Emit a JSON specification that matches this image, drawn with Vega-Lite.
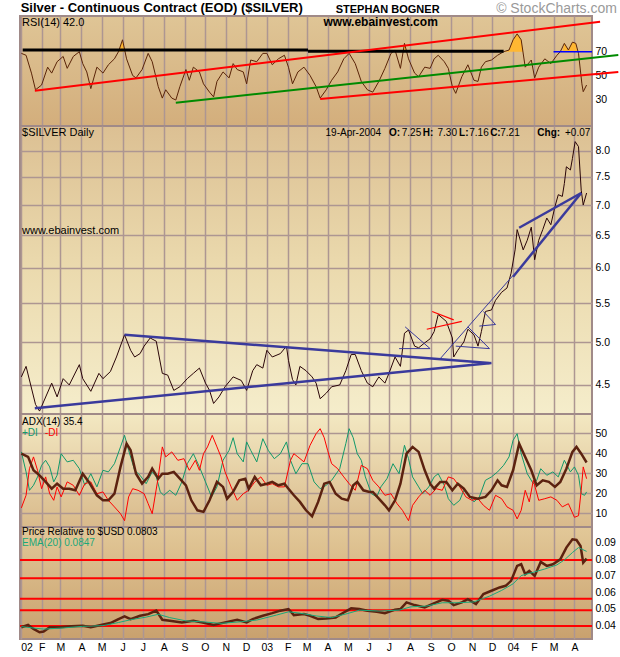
{
"$schema": "https://vega.github.io/schema/vega-lite/v6.json",
"background": "#ffffff",
"padding": {"left": 15, "top": 1, "right": 0, "bottom": 0},
"spacing": 0,
"bounds": "flush",
"config": {
  "font": "Liberation Sans",
  "view": {"stroke": "#a08a88", "strokeWidth": 2},
  "axis": {"domain": false, "ticks": false, "tickSize": 0, "labelFont": "Liberation Sans", "labelFontSize": 10.5, "labelColor": "#000000", "labelPadding": 3, "labelOverlap": false, "gridColor": "#ad9692", "gridWidth": 1.5, "gridOpacity": 1},
  "text": {"font": "Liberation Sans", "fontSize": 11, "baseline": "middle", "align": "left", "color": "#000000"}
},
"datasets": {
  "one": [{"k": 1}],
  "price": [{"d":"2002-01-02","v":4.59},{"d":"2002-01-09","v":4.71},{"d":"2002-01-23","v":4.29},{"d":"2002-01-29","v":4.22},{"d":"2002-02-16","v":4.52},{"d":"2002-02-24","v":4.37},{"d":"2002-03-05","v":4.57},{"d":"2002-03-14","v":4.50},{"d":"2002-03-29","v":4.73},{"d":"2002-04-03","v":4.57},{"d":"2002-04-15","v":4.43},{"d":"2002-04-27","v":4.63},{"d":"2002-05-03","v":4.57},{"d":"2002-05-14","v":4.65},{"d":"2002-05-23","v":4.82},{"d":"2002-06-04","v":5.09},{"d":"2002-06-13","v":4.90},{"d":"2002-06-19","v":4.82},{"d":"2002-06-27","v":4.86},{"d":"2002-07-03","v":4.95},{"d":"2002-07-12","v":5.05},{"d":"2002-07-21","v":5.01},{"d":"2002-07-30","v":4.63},{"d":"2002-08-07","v":4.61},{"d":"2002-08-16","v":4.44},{"d":"2002-08-25","v":4.48},{"d":"2002-09-05","v":4.57},{"d":"2002-09-14","v":4.63},{"d":"2002-09-23","v":4.69},{"d":"2002-10-02","v":4.52},{"d":"2002-10-08","v":4.44},{"d":"2002-10-14","v":4.30},{"d":"2002-10-22","v":4.37},{"d":"2002-10-31","v":4.48},{"d":"2002-11-12","v":4.59},{"d":"2002-11-24","v":4.55},{"d":"2002-12-02","v":4.44},{"d":"2002-12-11","v":4.66},{"d":"2002-12-17","v":4.73},{"d":"2002-12-26","v":4.69},{"d":"2003-01-01","v":4.90},{"d":"2003-01-09","v":4.82},{"d":"2003-01-21","v":4.86},{"d":"2003-01-30","v":4.95},{"d":"2003-02-02","v":4.78},{"d":"2003-02-08","v":4.56},{"d":"2003-02-13","v":4.50},{"d":"2003-02-19","v":4.71},{"d":"2003-02-28","v":4.66},{"d":"2003-03-09","v":4.59},{"d":"2003-03-15","v":4.52},{"d":"2003-03-21","v":4.35},{"d":"2003-03-30","v":4.41},{"d":"2003-04-07","v":4.48},{"d":"2003-04-19","v":4.50},{"d":"2003-04-28","v":4.66},{"d":"2003-05-06","v":4.85},{"d":"2003-05-12","v":4.85},{"d":"2003-05-21","v":4.66},{"d":"2003-05-30","v":4.52},{"d":"2003-06-07","v":4.48},{"d":"2003-06-16","v":4.59},{"d":"2003-06-25","v":4.52},{"d":"2003-07-01","v":4.63},{"d":"2003-07-10","v":4.82},{"d":"2003-07-18","v":4.71},{"d":"2003-07-24","v":5.11},{"d":"2003-07-30","v":5.15},{"d":"2003-08-08","v":4.95},{"d":"2003-08-14","v":4.93},{"d":"2003-08-23","v":4.99},{"d":"2003-08-31","v":5.04},{"d":"2003-09-06","v":5.13},{"d":"2003-09-12","v":5.35},{"d":"2003-09-24","v":5.26},{"d":"2003-10-03","v":5.05},{"d":"2003-10-05","v":4.82},{"d":"2003-10-11","v":4.90},{"d":"2003-10-20","v":5.00},{"d":"2003-10-26","v":5.16},{"d":"2003-11-04","v":5.09},{"d":"2003-11-10","v":4.95},{"d":"2003-11-15","v":5.13},{"d":"2003-11-21","v":5.39},{"d":"2003-11-30","v":5.41},{"d":"2003-12-06","v":5.54},{"d":"2003-12-15","v":5.65},{"d":"2003-12-23","v":5.71},{"d":"2003-12-29","v":5.92},{"d":"2004-01-04","v":6.27},{"d":"2004-01-07","v":6.59},{"d":"2004-01-16","v":6.27},{"d":"2004-01-22","v":6.42},{"d":"2004-01-28","v":6.63},{"d":"2004-02-02","v":6.12},{"d":"2004-02-08","v":6.42},{"d":"2004-02-14","v":6.59},{"d":"2004-02-20","v":6.78},{"d":"2004-02-26","v":6.67},{"d":"2004-03-03","v":6.97},{"d":"2004-03-08","v":7.18},{"d":"2004-03-14","v":7.15},{"d":"2004-03-17","v":7.38},{"d":"2004-03-20","v":7.69},{"d":"2004-03-26","v":7.63},{"d":"2004-03-29","v":7.85},{"d":"2004-04-02","v":8.18},{"d":"2004-04-07","v":8.08},{"d":"2004-04-11","v":7.26},{"d":"2004-04-14","v":7.00},{"d":"2004-04-19","v":7.21}],
  "rsi": [{"d":"2002-01-02","v":68.6},{"d":"2002-01-09","v":67},{"d":"2002-01-17","v":52},{"d":"2002-01-23","v":38},{"d":"2002-02-01","v":42},{"d":"2002-02-10","v":57},{"d":"2002-02-16","v":52},{"d":"2002-02-24","v":61.6},{"d":"2002-03-05","v":66},{"d":"2002-03-11","v":56},{"d":"2002-03-20","v":66},{"d":"2002-03-29","v":70},{"d":"2002-04-03","v":60},{"d":"2002-04-09","v":53},{"d":"2002-04-15","v":39},{"d":"2002-04-24","v":57},{"d":"2002-05-03","v":52},{"d":"2002-05-11","v":59},{"d":"2002-05-20","v":64},{"d":"2002-05-26","v":70},{"d":"2002-06-01","v":80},{"d":"2002-06-07","v":64},{"d":"2002-06-16","v":50},{"d":"2002-06-21","v":48},{"d":"2002-06-30","v":55},{"d":"2002-07-09","v":68.6},{"d":"2002-07-15","v":61.6},{"d":"2002-07-24","v":40.6},{"d":"2002-07-30","v":31},{"d":"2002-08-04","v":38},{"d":"2002-08-13","v":31},{"d":"2002-08-19","v":29.4},{"d":"2002-08-25","v":40.6},{"d":"2002-09-03","v":55},{"d":"2002-09-08","v":46},{"d":"2002-09-14","v":57},{"d":"2002-09-23","v":53},{"d":"2002-09-29","v":43},{"d":"2002-10-08","v":36},{"d":"2002-10-14","v":32},{"d":"2002-10-19","v":45},{"d":"2002-10-28","v":53},{"d":"2002-11-06","v":48},{"d":"2002-11-12","v":60},{"d":"2002-11-18","v":55},{"d":"2002-11-27","v":53},{"d":"2002-12-02","v":43},{"d":"2002-12-08","v":63},{"d":"2002-12-17","v":61.6},{"d":"2002-12-26","v":68.6},{"d":"2003-01-01","v":68.6},{"d":"2003-01-09","v":59},{"d":"2003-01-18","v":64},{"d":"2003-01-27","v":67},{"d":"2003-02-02","v":57},{"d":"2003-02-08","v":43},{"d":"2003-02-16","v":53},{"d":"2003-02-25","v":57},{"d":"2003-03-06","v":50},{"d":"2003-03-15","v":40.6},{"d":"2003-03-21","v":31},{"d":"2003-03-30","v":38},{"d":"2003-04-07","v":46},{"d":"2003-04-16","v":53},{"d":"2003-04-25","v":64},{"d":"2003-05-03","v":68.6},{"d":"2003-05-12","v":60},{"d":"2003-05-21","v":45},{"d":"2003-05-30","v":38},{"d":"2003-06-07","v":36},{"d":"2003-06-16","v":45},{"d":"2003-06-25","v":56},{"d":"2003-07-04","v":68.6},{"d":"2003-07-10","v":71.4},{"d":"2003-07-18","v":56},{"d":"2003-07-24","v":77},{"d":"2003-07-30","v":64},{"d":"2003-08-08","v":52},{"d":"2003-08-14","v":49},{"d":"2003-08-23","v":57},{"d":"2003-08-31","v":56},{"d":"2003-09-06","v":64},{"d":"2003-09-12","v":67},{"d":"2003-09-21","v":61.6},{"d":"2003-09-27","v":56},{"d":"2003-10-03","v":40.6},{"d":"2003-10-08","v":35},{"d":"2003-10-17","v":49},{"d":"2003-10-26","v":59},{"d":"2003-11-04","v":46},{"d":"2003-11-10","v":45},{"d":"2003-11-15","v":57},{"d":"2003-11-21","v":61.6},{"d":"2003-11-30","v":63},{"d":"2003-12-09","v":67},{"d":"2003-12-18","v":70},{"d":"2003-12-26","v":71.4},{"d":"2004-01-01","v":80},{"d":"2004-01-07","v":85},{"d":"2004-01-13","v":80},{"d":"2004-01-19","v":57},{"d":"2004-01-28","v":63},{"d":"2004-02-02","v":48},{"d":"2004-02-08","v":57},{"d":"2004-02-17","v":64},{"d":"2004-02-26","v":60},{"d":"2004-03-06","v":67},{"d":"2004-03-11","v":70},{"d":"2004-03-17","v":77},{"d":"2004-03-23","v":71.4},{"d":"2004-03-29","v":78},{"d":"2004-04-03","v":77},{"d":"2004-04-07","v":68.6},{"d":"2004-04-12","v":43},{"d":"2004-04-14","v":36.4},{"d":"2004-04-19","v":42}],
  "ob": [{"d":"2002-05-26","v":70,"s":1},{"d":"2002-06-01","v":80,"s":1},{"d":"2002-06-04","v":70,"s":1},{"d":"2003-07-22","v":70,"s":2},{"d":"2003-07-24","v":77,"s":2},{"d":"2003-07-27","v":70,"s":2},{"d":"2003-12-18","v":70,"s":3},{"d":"2003-12-26","v":71.4,"s":3},{"d":"2004-01-01","v":80,"s":3},{"d":"2004-01-07","v":85,"s":3},{"d":"2004-01-13","v":80,"s":3},{"d":"2004-01-16","v":70,"s":3},{"d":"2004-03-14","v":70,"s":4},{"d":"2004-03-17","v":77,"s":4},{"d":"2004-03-23","v":71.4,"s":4},{"d":"2004-03-29","v":78,"s":4},{"d":"2004-04-03","v":77,"s":4},{"d":"2004-04-05","v":70,"s":4}],
  "adx": [{"d":"2002-01-02","v":39.8},{"d":"2002-01-12","v":38.2},{"d":"2002-01-20","v":31.5},{"d":"2002-01-29","v":29},{"d":"2002-02-07","v":25.7},{"d":"2002-02-16","v":22.3},{"d":"2002-02-24","v":24.8},{"d":"2002-03-05","v":22.3},{"d":"2002-03-14","v":22.3},{"d":"2002-03-23","v":21.5},{"d":"2002-04-03","v":29.8},{"d":"2002-04-12","v":25.7},{"d":"2002-04-24","v":19},{"d":"2002-05-03","v":16.5},{"d":"2002-05-11","v":16.5},{"d":"2002-05-20","v":19.8},{"d":"2002-05-29","v":33.2},{"d":"2002-06-07","v":44.8},{"d":"2002-06-13","v":41.5},{"d":"2002-06-21","v":29.8},{"d":"2002-06-30","v":24.8},{"d":"2002-07-09","v":28.2},{"d":"2002-07-15","v":32.3},{"d":"2002-07-24","v":27.3},{"d":"2002-07-30","v":29.8},{"d":"2002-08-07","v":29.8},{"d":"2002-08-16","v":30.7},{"d":"2002-08-25","v":27.3},{"d":"2002-09-03","v":24},{"d":"2002-09-11","v":16.5},{"d":"2002-09-20","v":11.5},{"d":"2002-09-29","v":10.7},{"d":"2002-10-08","v":16.5},{"d":"2002-10-19","v":25.7},{"d":"2002-10-28","v":23.2},{"d":"2002-11-03","v":17.3},{"d":"2002-11-12","v":20.7},{"d":"2002-11-21","v":26.5},{"d":"2002-11-30","v":27.3},{"d":"2002-12-05","v":22.3},{"d":"2002-12-14","v":28.2},{"d":"2002-12-23","v":24},{"d":"2003-01-01","v":24.8},{"d":"2003-01-09","v":25.7},{"d":"2003-01-18","v":24},{"d":"2003-01-27","v":24.8},{"d":"2003-02-02","v":22.3},{"d":"2003-02-10","v":19},{"d":"2003-02-19","v":15.7},{"d":"2003-02-28","v":11.5},{"d":"2003-03-09","v":8.5},{"d":"2003-03-18","v":15.7},{"d":"2003-03-27","v":24.8},{"d":"2003-04-04","v":25.7},{"d":"2003-04-13","v":19.8},{"d":"2003-04-22","v":17.3},{"d":"2003-05-01","v":16.5},{"d":"2003-05-09","v":24},{"d":"2003-05-15","v":25.7},{"d":"2003-05-24","v":21.5},{"d":"2003-06-02","v":20.7},{"d":"2003-06-07","v":20.7},{"d":"2003-06-16","v":17.3},{"d":"2003-06-25","v":14},{"d":"2003-07-01","v":11.5},{"d":"2003-07-10","v":16.5},{"d":"2003-07-18","v":24.8},{"d":"2003-07-27","v":39.8},{"d":"2003-08-05","v":43.2},{"d":"2003-08-14","v":40.7},{"d":"2003-08-23","v":31.5},{"d":"2003-08-31","v":24.8},{"d":"2003-09-06","v":22.3},{"d":"2003-09-15","v":25.7},{"d":"2003-09-24","v":25.7},{"d":"2003-10-03","v":21.5},{"d":"2003-10-11","v":24.8},{"d":"2003-10-20","v":22.3},{"d":"2003-10-29","v":18.2},{"d":"2003-11-10","v":17.3},{"d":"2003-11-21","v":18.2},{"d":"2003-11-30","v":21.5},{"d":"2003-12-09","v":26.5},{"d":"2003-12-15","v":24},{"d":"2003-12-23","v":23.2},{"d":"2004-01-01","v":31.5},{"d":"2004-01-10","v":44.8},{"d":"2004-01-19","v":38.2},{"d":"2004-01-28","v":31.5},{"d":"2004-02-05","v":24},{"d":"2004-02-14","v":26.5},{"d":"2004-02-23","v":25.7},{"d":"2004-03-03","v":23.2},{"d":"2004-03-11","v":25.7},{"d":"2004-03-20","v":32.3},{"d":"2004-03-29","v":40.7},{"d":"2004-04-04","v":43.2},{"d":"2004-04-11","v":39.8},{"d":"2004-04-19","v":35.4}],
  "pdi": [{"d":"2002-01-02","v":40.7},{"d":"2002-01-09","v":30.7},{"d":"2002-01-14","v":21.5},{"d":"2002-01-20","v":24},{"d":"2002-01-26","v":28.2},{"d":"2002-02-01","v":34},{"d":"2002-02-07","v":36.5},{"d":"2002-02-13","v":33.2},{"d":"2002-02-19","v":25.7},{"d":"2002-02-24","v":29},{"d":"2002-03-02","v":39.8},{"d":"2002-03-11","v":35.7},{"d":"2002-03-20","v":36.5},{"d":"2002-03-29","v":32.3},{"d":"2002-04-06","v":24},{"d":"2002-04-15","v":29.8},{"d":"2002-04-24","v":23.2},{"d":"2002-05-03","v":31.5},{"d":"2002-05-11","v":30.7},{"d":"2002-05-20","v":34.8},{"d":"2002-05-29","v":43.2},{"d":"2002-06-04","v":49},{"d":"2002-06-10","v":41.5},{"d":"2002-06-19","v":31.5},{"d":"2002-06-27","v":29},{"d":"2002-07-06","v":24.8},{"d":"2002-07-15","v":30.7},{"d":"2002-07-21","v":28.2},{"d":"2002-07-27","v":20.7},{"d":"2002-08-01","v":19},{"d":"2002-08-10","v":21.5},{"d":"2002-08-19","v":19},{"d":"2002-08-28","v":25.7},{"d":"2002-09-05","v":34.8},{"d":"2002-09-14","v":39.8},{"d":"2002-09-23","v":33.2},{"d":"2002-10-02","v":25.7},{"d":"2002-10-11","v":18.2},{"d":"2002-10-19","v":23.2},{"d":"2002-10-28","v":36.5},{"d":"2002-11-06","v":41.5},{"d":"2002-11-12","v":47.8},{"d":"2002-11-18","v":39.8},{"d":"2002-11-27","v":35.7},{"d":"2002-12-02","v":45.7},{"d":"2002-12-08","v":41.5},{"d":"2002-12-17","v":35.7},{"d":"2002-12-26","v":47.3},{"d":"2003-01-03","v":41.5},{"d":"2003-01-12","v":37.3},{"d":"2003-01-21","v":39.8},{"d":"2003-01-30","v":45.7},{"d":"2003-02-05","v":36.5},{"d":"2003-02-13","v":29.8},{"d":"2003-02-22","v":34.8},{"d":"2003-03-03","v":34.8},{"d":"2003-03-12","v":25.7},{"d":"2003-03-21","v":22.3},{"d":"2003-03-30","v":24},{"d":"2003-04-07","v":26.5},{"d":"2003-04-19","v":32.3},{"d":"2003-04-28","v":44.8},{"d":"2003-05-03","v":52.3},{"d":"2003-05-09","v":47.8},{"d":"2003-05-15","v":39.8},{"d":"2003-05-21","v":36.5},{"d":"2003-05-27","v":28.2},{"d":"2003-06-05","v":19.8},{"d":"2003-06-13","v":18.2},{"d":"2003-06-19","v":23.2},{"d":"2003-06-28","v":27.3},{"d":"2003-07-07","v":34.8},{"d":"2003-07-16","v":29.8},{"d":"2003-07-24","v":44},{"d":"2003-07-30","v":37.3},{"d":"2003-08-05","v":28.2},{"d":"2003-08-14","v":23.2},{"d":"2003-08-20","v":19.8},{"d":"2003-08-29","v":23.2},{"d":"2003-09-06","v":28.2},{"d":"2003-09-12","v":29.8},{"d":"2003-09-21","v":24},{"d":"2003-09-27","v":17.3},{"d":"2003-10-05","v":14},{"d":"2003-10-14","v":16.5},{"d":"2003-10-20","v":21.5},{"d":"2003-10-26","v":19.8},{"d":"2003-11-04","v":15.7},{"d":"2003-11-12","v":18.2},{"d":"2003-11-21","v":26.5},{"d":"2003-11-30","v":28.2},{"d":"2003-12-09","v":30.7},{"d":"2003-12-18","v":34},{"d":"2003-12-26","v":38.2},{"d":"2004-01-01","v":46.5},{"d":"2004-01-07","v":49.8},{"d":"2004-01-13","v":39.8},{"d":"2004-01-22","v":29.8},{"d":"2004-01-31","v":24.8},{"d":"2004-02-05","v":26.5},{"d":"2004-02-11","v":32.3},{"d":"2004-02-20","v":29},{"d":"2004-02-29","v":30.7},{"d":"2004-03-08","v":28.2},{"d":"2004-03-17","v":36.5},{"d":"2004-03-26","v":30.7},{"d":"2004-04-01","v":33.2},{"d":"2004-04-07","v":29},{"d":"2004-04-11","v":19.8},{"d":"2004-04-16","v":19},{"d":"2004-04-19","v":20.7}],
  "mdi": [{"d":"2002-01-02","v":12.7},{"d":"2002-01-09","v":19},{"d":"2002-01-14","v":32.3},{"d":"2002-01-20","v":38.2},{"d":"2002-01-26","v":31.5},{"d":"2002-02-01","v":22.3},{"d":"2002-02-07","v":28.2},{"d":"2002-02-13","v":19.8},{"d":"2002-02-19","v":16.5},{"d":"2002-02-24","v":23.2},{"d":"2002-03-02","v":18.2},{"d":"2002-03-11","v":25.7},{"d":"2002-03-20","v":24},{"d":"2002-03-29","v":19},{"d":"2002-04-06","v":24.8},{"d":"2002-04-15","v":25.7},{"d":"2002-04-24","v":19.8},{"d":"2002-05-03","v":20.7},{"d":"2002-05-11","v":16.5},{"d":"2002-05-20","v":13.2},{"d":"2002-05-29","v":9.8},{"d":"2002-06-04","v":6.3},{"d":"2002-06-10","v":18.2},{"d":"2002-06-16","v":22.3},{"d":"2002-06-24","v":21.5},{"d":"2002-07-03","v":19.8},{"d":"2002-07-09","v":14.8},{"d":"2002-07-15","v":9.8},{"d":"2002-07-24","v":28.2},{"d":"2002-07-30","v":43.2},{"d":"2002-08-04","v":38.2},{"d":"2002-08-13","v":40.7},{"d":"2002-08-22","v":36.5},{"d":"2002-08-31","v":37.3},{"d":"2002-09-08","v":31.5},{"d":"2002-09-17","v":36.5},{"d":"2002-09-23","v":31.5},{"d":"2002-09-29","v":39.8},{"d":"2002-10-05","v":43.2},{"d":"2002-10-12","v":49},{"d":"2002-10-19","v":43.2},{"d":"2002-10-25","v":38.2},{"d":"2002-10-31","v":30.7},{"d":"2002-11-09","v":23.2},{"d":"2002-11-18","v":16.5},{"d":"2002-11-27","v":19.8},{"d":"2002-12-05","v":21.5},{"d":"2002-12-14","v":25.7},{"d":"2002-12-23","v":28.2},{"d":"2003-01-01","v":24},{"d":"2003-01-09","v":24.8},{"d":"2003-01-18","v":23.2},{"d":"2003-01-27","v":23.2},{"d":"2003-02-05","v":36.5},{"d":"2003-02-10","v":39.8},{"d":"2003-02-16","v":38.2},{"d":"2003-02-25","v":35.7},{"d":"2003-03-06","v":44},{"d":"2003-03-15","v":49.8},{"d":"2003-03-21","v":52.3},{"d":"2003-03-27","v":47.8},{"d":"2003-04-01","v":41.5},{"d":"2003-04-07","v":34.8},{"d":"2003-04-16","v":32.3},{"d":"2003-04-25","v":28.2},{"d":"2003-05-03","v":24.8},{"d":"2003-05-12","v":21.5},{"d":"2003-05-21","v":34},{"d":"2003-05-30","v":32.3},{"d":"2003-06-07","v":26.5},{"d":"2003-06-16","v":23.2},{"d":"2003-06-25","v":19},{"d":"2003-07-04","v":19.8},{"d":"2003-07-13","v":14.8},{"d":"2003-07-21","v":11.5},{"d":"2003-07-30","v":6.3},{"d":"2003-08-05","v":14},{"d":"2003-08-14","v":18.2},{"d":"2003-08-23","v":21.5},{"d":"2003-08-31","v":19},{"d":"2003-09-09","v":22.3},{"d":"2003-09-18","v":21.5},{"d":"2003-09-27","v":28.2},{"d":"2003-10-05","v":27.3},{"d":"2003-10-14","v":23.2},{"d":"2003-10-23","v":18.2},{"d":"2003-11-01","v":16.5},{"d":"2003-11-10","v":17.3},{"d":"2003-11-18","v":14},{"d":"2003-11-27","v":11.5},{"d":"2003-12-06","v":19},{"d":"2003-12-15","v":17.3},{"d":"2003-12-23","v":13.2},{"d":"2004-01-01","v":11.5},{"d":"2004-01-07","v":7.2},{"d":"2004-01-13","v":11.5},{"d":"2004-01-19","v":21.5},{"d":"2004-01-25","v":15.7},{"d":"2004-01-31","v":26.5},{"d":"2004-02-08","v":16.5},{"d":"2004-02-17","v":17.3},{"d":"2004-02-26","v":18.2},{"d":"2004-03-06","v":16.5},{"d":"2004-03-14","v":13.2},{"d":"2004-03-23","v":14.8},{"d":"2004-04-01","v":8},{"d":"2004-04-07","v":8.8},{"d":"2004-04-11","v":21.5},{"d":"2004-04-14","v":33.2},{"d":"2004-04-19","v":27.3}],
  "rel": [{"d":"2002-01-02","v":0.0386},{"d":"2002-01-12","v":0.0400},{"d":"2002-01-20","v":0.0376},{"d":"2002-01-29","v":0.0356},{"d":"2002-02-04","v":0.0360},{"d":"2002-02-13","v":0.0386},{"d":"2002-02-27","v":0.0386},{"d":"2002-03-17","v":0.0392},{"d":"2002-04-03","v":0.0396},{"d":"2002-04-15","v":0.0386},{"d":"2002-04-30","v":0.0400},{"d":"2002-05-14","v":0.0412},{"d":"2002-05-26","v":0.0436},{"d":"2002-06-04","v":0.0452},{"d":"2002-06-13","v":0.0436},{"d":"2002-06-27","v":0.0456},{"d":"2002-07-09","v":0.0466},{"d":"2002-07-21","v":0.0487},{"d":"2002-07-30","v":0.0432},{"d":"2002-08-10","v":0.0426},{"d":"2002-08-28","v":0.0416},{"d":"2002-09-14","v":0.0426},{"d":"2002-09-26","v":0.0416},{"d":"2002-10-14","v":0.0400},{"d":"2002-10-31","v":0.0416},{"d":"2002-11-18","v":0.0432},{"d":"2002-12-02","v":0.0416},{"d":"2002-12-11","v":0.0436},{"d":"2002-12-26","v":0.0456},{"d":"2003-01-09","v":0.0472},{"d":"2003-01-21","v":0.0487},{"d":"2003-02-02","v":0.0497},{"d":"2003-02-10","v":0.0460},{"d":"2003-02-25","v":0.0466},{"d":"2003-03-06","v":0.0456},{"d":"2003-03-18","v":0.0436},{"d":"2003-03-30","v":0.0440},{"d":"2003-04-13","v":0.0446},{"d":"2003-04-25","v":0.0476},{"d":"2003-05-06","v":0.0501},{"d":"2003-05-18","v":0.0497},{"d":"2003-05-30","v":0.0487},{"d":"2003-06-13","v":0.0480},{"d":"2003-06-25","v":0.0472},{"d":"2003-07-10","v":0.0493},{"d":"2003-07-18","v":0.0497},{"d":"2003-07-27","v":0.0537},{"d":"2003-08-08","v":0.0521},{"d":"2003-08-23","v":0.0507},{"d":"2003-09-03","v":0.0527},{"d":"2003-09-18","v":0.0553},{"d":"2003-09-27","v":0.0547},{"d":"2003-10-05","v":0.0521},{"d":"2003-10-17","v":0.0537},{"d":"2003-10-26","v":0.0557},{"d":"2003-11-07","v":0.0527},{"d":"2003-11-18","v":0.0588},{"d":"2003-11-30","v":0.0608},{"d":"2003-12-12","v":0.0628},{"d":"2003-12-21","v":0.0638},{"d":"2003-12-29","v":0.0668},{"d":"2004-01-07","v":0.0759},{"d":"2004-01-13","v":0.0769},{"d":"2004-01-19","v":0.0708},{"d":"2004-01-25","v":0.0729},{"d":"2004-02-02","v":0.0698},{"d":"2004-02-11","v":0.0783},{"d":"2004-02-20","v":0.0759},{"d":"2004-02-29","v":0.0769},{"d":"2004-03-11","v":0.0799},{"d":"2004-03-20","v":0.0870},{"d":"2004-03-29","v":0.0920},{"d":"2004-04-04","v":0.0916},{"d":"2004-04-10","v":0.0880},{"d":"2004-04-14","v":0.0779},{"d":"2004-04-19","v":0.0803}],
  "ema": [{"d":"2002-01-02","v":0.0390},{"d":"2002-02-04","v":0.0375},{"d":"2002-03-05","v":0.0382},{"d":"2002-04-03","v":0.0392},{"d":"2002-05-03","v":0.0396},{"d":"2002-05-26","v":0.0415},{"d":"2002-06-13","v":0.0432},{"d":"2002-07-06","v":0.0448},{"d":"2002-07-24","v":0.0465},{"d":"2002-08-10","v":0.0445},{"d":"2002-09-03","v":0.0425},{"d":"2002-10-02","v":0.0418},{"d":"2002-10-25","v":0.0410},{"d":"2002-11-24","v":0.0420},{"d":"2002-12-17","v":0.0430},{"d":"2003-01-15","v":0.0460},{"d":"2003-02-02","v":0.0480},{"d":"2003-02-19","v":0.0472},{"d":"2003-03-15","v":0.0455},{"d":"2003-04-07","v":0.0445},{"d":"2003-05-01","v":0.0470},{"d":"2003-05-18","v":0.0490},{"d":"2003-06-16","v":0.0485},{"d":"2003-07-16","v":0.0490},{"d":"2003-08-02","v":0.0510},{"d":"2003-08-26","v":0.0515},{"d":"2003-09-18","v":0.0535},{"d":"2003-10-11","v":0.0535},{"d":"2003-11-04","v":0.0540},{"d":"2003-11-27","v":0.0575},{"d":"2003-12-15","v":0.0610},{"d":"2004-01-01","v":0.0650},{"d":"2004-01-13","v":0.0700},{"d":"2004-01-31","v":0.0720},{"d":"2004-02-17","v":0.0740},{"d":"2004-03-06","v":0.0765},{"d":"2004-03-17","v":0.0795},{"d":"2004-03-29","v":0.0840},{"d":"2004-04-07","v":0.0870},{"d":"2004-04-19","v":0.0847}]
},
"vconcat": [
 {
  "width": 572, "height": 110,
  "view": {"fill": {"gradient": "linear", "x1": 0, "y1": 0, "x2": 0, "y2": 1, "stops": [{"offset": 0, "color": "#dfc596"}, {"offset": 1, "color": "#d3ae7c"}]}},
  "layer": [
   {"data": {"name": "ob"}, "mark": {"type": "area", "color": "#ffb732"},
    "encoding": {"x": {"field": "d", "type": "temporal", "title": null, "scale": {"type": "utc", "domain": [{"year": 2001, "month": 12, "date": 31, "utc": true}, {"year": 2004, "month": 4, "date": 27, "utc": true}]}, "axis": {"tickCount": {"interval": "month", "step": 1}, "labels": false, "grid": true}},
     "y": {"field": "v", "type": "quantitative", "title": null, "scale": {"domain": [7.56, 100], "zero": false, "nice": false}, "axis": {"orient": "right", "values": [30, 50, 70], "tickCount": 20, "grid": false, "labelOverlap": false}},
     "y2": {"datum": 70}, "detail": {"field": "s"}}},
   {"mark": {"type": "rule", "color": "#6b3010", "strokeWidth": 1.2}, "encoding": {"y": {"datum": 30, "type": "quantitative", "scale": {"domain": [7.56, 100], "zero": false, "nice": false}}}},
   {"mark": {"type": "rule", "color": "#6b3010", "strokeWidth": 1, "strokeDash": [5, 4]}, "encoding": {"y": {"datum": 50, "type": "quantitative", "scale": {"domain": [7.56, 100], "zero": false, "nice": false}}}},
   {"mark": {"type": "rule", "color": "#6b3010", "strokeWidth": 1}, "encoding": {"y": {"datum": 70, "type": "quantitative", "scale": {"domain": [7.56, 100], "zero": false, "nice": false}}}},
   {"data": {"name": "rsi"}, "mark": {"type": "line", "color": "#5a2408", "strokeWidth": 1},
    "encoding": {"x": {"field": "d", "type": "temporal", "title": null, "scale": {"type": "utc", "domain": [{"year": 2001, "month": 12, "date": 31, "utc": true}, {"year": 2004, "month": 4, "date": 27, "utc": true}]}},
     "y": {"field": "v", "type": "quantitative", "title": null, "scale": {"domain": [7.56, 100], "zero": false, "nice": false}}}},
   {"data": {"values": [{"d1": "2002-01-04", "v1": 71.4, "d2": "2003-03-03", "v2": 71.4}, {"d1": "2003-03-03", "v1": 70.4, "d2": "2003-12-18", "v2": 70.4}], "format": {"parse": {"d1": "date", "d2": "date"}}},
    "mark": {"type": "rule", "color": "#000000", "strokeWidth": 3},
    "encoding": {"x": {"field": "d1", "type": "temporal", "title": null, "scale": {"type": "utc", "domain": [{"year": 2001, "month": 12, "date": 31, "utc": true}, {"year": 2004, "month": 4, "date": 27, "utc": true}]}}, "x2": {"field": "d2"},
     "y": {"field": "v1", "type": "quantitative", "title": null, "scale": {"domain": [7.56, 100], "zero": false, "nice": false}}, "y2": {"field": "v2"}}},
   {"data": {"values": [{"d1": "2002-01-22", "v1": 37.2, "d2": "2004-05-09", "v2": 95.2}, {"d1": "2003-03-21", "v1": 30.2, "d2": "2004-06-05", "v2": 53}], "format": {"parse": {"d1": "date", "d2": "date"}}},
    "mark": {"type": "rule", "color": "#ff0000", "strokeWidth": 2},
    "encoding": {"x": {"field": "d1", "type": "temporal", "title": null, "scale": {"type": "utc", "domain": [{"year": 2001, "month": 12, "date": 31, "utc": true}, {"year": 2004, "month": 4, "date": 27, "utc": true}]}}, "x2": {"field": "d2"},
     "y": {"field": "v1", "type": "quantitative", "title": null, "scale": {"domain": [7.56, 100], "zero": false, "nice": false}}, "y2": {"field": "v2"}}},
   {"data": {"values": [{"d1": "2002-08-19", "v1": 27.1, "d2": "2004-06-05", "v2": 67.2}], "format": {"parse": {"d1": "date", "d2": "date"}}},
    "mark": {"type": "rule", "color": "#008a00", "strokeWidth": 2},
    "encoding": {"x": {"field": "d1", "type": "temporal", "title": null, "scale": {"type": "utc", "domain": [{"year": 2001, "month": 12, "date": 31, "utc": true}, {"year": 2004, "month": 4, "date": 27, "utc": true}]}}, "x2": {"field": "d2"},
     "y": {"field": "v1", "type": "quantitative", "title": null, "scale": {"domain": [7.56, 100], "zero": false, "nice": false}}, "y2": {"field": "v2"}}},
   {"data": {"values": [{"d1": "2004-03-01", "v1": 70, "d2": "2004-04-27", "v2": 70}], "format": {"parse": {"d1": "date", "d2": "date"}}},
    "mark": {"type": "rule", "color": "#0000ff", "strokeWidth": 1.5},
    "encoding": {"x": {"field": "d1", "type": "temporal", "title": null, "scale": {"type": "utc", "domain": [{"year": 2001, "month": 12, "date": 31, "utc": true}, {"year": 2004, "month": 4, "date": 27, "utc": true}]}}, "x2": {"field": "d2"},
     "y": {"field": "v1", "type": "quantitative", "title": null, "scale": {"domain": [7.56, 100], "zero": false, "nice": false}}, "y2": {"field": "v2"}}},
   {"data": {"name": "one"}, "mark": {"type": "text"},
    "encoding": {"text": {"value": "RSI(14)  42.0"}, "x": {"datum": {"year": 2002, "month": 1, "date": 3, "utc": true}, "type": "temporal", "scale": {"type": "utc", "domain": [{"year": 2001, "month": 12, "date": 31, "utc": true}, {"year": 2004, "month": 4, "date": 27, "utc": true}]}},
     "y": {"datum": 94.4, "type": "quantitative", "scale": {"domain": [7.56, 100], "zero": false, "nice": false}}}},
   {"data": {"name": "one"}, "mark": {"type": "text", "fontWeight": "bold", "fontSize": 12},
    "encoding": {"text": {"value": "www.ebainvest.com"}, "x": {"datum": {"year": 2003, "month": 3, "date": 26, "utc": true}, "type": "temporal", "scale": {"type": "utc", "domain": [{"year": 2001, "month": 12, "date": 31, "utc": true}, {"year": 2004, "month": 4, "date": 27, "utc": true}]}},
     "y": {"datum": 95.2, "type": "quantitative", "scale": {"domain": [7.56, 100], "zero": false, "nice": false}}}},
   {"data": {"name": "one"}, "mark": {"type": "text", "fontWeight": "bold", "fontSize": 13},
    "encoding": {"text": {"value": "Silver - Continuous Contract (EOD) ($SILVER)"}, "x": {"datum": {"year": 2002, "month": 1, "date": 1, "utc": true}, "type": "temporal", "scale": {"type": "utc", "domain": [{"year": 2001, "month": 12, "date": 31, "utc": true}, {"year": 2004, "month": 4, "date": 27, "utc": true}]}},
     "y": {"datum": 106.7, "type": "quantitative", "scale": {"domain": [7.56, 100], "zero": false, "nice": false}}}},
   {"data": {"name": "one"}, "mark": {"type": "text", "fontWeight": "bold", "fontSize": 11},
    "encoding": {"text": {"value": "STEPHAN BOGNER"}, "x": {"datum": {"year": 2003, "month": 4, "date": 13, "utc": true}, "type": "temporal", "scale": {"type": "utc", "domain": [{"year": 2001, "month": 12, "date": 31, "utc": true}, {"year": 2004, "month": 4, "date": 27, "utc": true}]}},
     "y": {"datum": 105.2, "type": "quantitative", "scale": {"domain": [7.56, 100], "zero": false, "nice": false}}}},
   {"data": {"name": "one"}, "mark": {"type": "text", "fontSize": 14, "color": "#9a9a9a", "align": "right"},
    "encoding": {"text": {"value": "© StockCharts.com"}, "x": {"datum": {"year": 2004, "month": 6, "date": 3, "utc": true}, "type": "temporal", "scale": {"type": "utc", "domain": [{"year": 2001, "month": 12, "date": 31, "utc": true}, {"year": 2004, "month": 4, "date": 27, "utc": true}]}},
     "y": {"datum": 105.6, "type": "quantitative", "scale": {"domain": [7.56, 100], "zero": false, "nice": false}}}}
  ]
 },
 {
  "width": 572, "height": 288,
  "view": {"fill": {"gradient": "linear", "x1": 0, "y1": 0, "x2": 0, "y2": 1, "stops": [{"offset": 0, "color": "#dcc093"}, {"offset": 0.5, "color": "#ebdaae"}, {"offset": 1, "color": "#f5edcb"}]}},
  "layer": [
   {"data": {"name": "price"}, "mark": {"type": "line", "color": "#3d0a12", "strokeWidth": 1, "opacity": 0},
    "encoding": {"x": {"field": "d", "type": "temporal", "title": null, "scale": {"type": "utc", "domain": [{"year": 2001, "month": 12, "date": 31, "utc": true}, {"year": 2004, "month": 4, "date": 27, "utc": true}]}, "axis": {"tickCount": {"interval": "month", "step": 1}, "labels": false, "grid": true}},
     "y": {"field": "v", "type": "quantitative", "title": null, "scale": {"type": "log", "domain": [4.19, 8.5], "nice": false}, "axis": {"orient": "right", "values": [4.5, 5, 5.5, 6, 6.5, 7, 7.5, 8], "tickCount": 20, "format": ".1f", "grid": true, "labelOverlap": false}}}},
   {"mark": {"type": "rule", "color": "#ffff00", "strokeWidth": 2.5}, "encoding": {"y": {"datum": 6.48, "type": "quantitative", "scale": {"type": "log", "domain": [4.19, 8.5], "nice": false}}}},
   {"mark": {"type": "rule", "color": "#f2f000", "strokeWidth": 1, "strokeDash": [4, 3]}, "encoding": {"y": {"datum": 6.18, "type": "quantitative", "scale": {"type": "log", "domain": [4.19, 8.5], "nice": false}}}},
   {"mark": {"type": "rule", "color": "#ffc58a", "strokeWidth": 2, "strokeDash": [8, 5]}, "encoding": {"y": {"datum": 5.27, "type": "quantitative", "scale": {"type": "log", "domain": [4.19, 8.5], "nice": false}}}},
   {"mark": {"type": "rule", "color": "#ffee00", "strokeWidth": 1.5, "strokeDash": [6, 4]}, "encoding": {"y": {"datum": 4.49, "type": "quantitative", "scale": {"type": "log", "domain": [4.19, 8.5], "nice": false}}}},
   {"mark": {"type": "rule", "color": "#ffff00", "strokeWidth": 3}, "encoding": {"y": {"datum": 4.27, "type": "quantitative", "scale": {"type": "log", "domain": [4.19, 8.5], "nice": false}}}},
   {"data": {"name": "price"}, "mark": {"type": "line", "color": "#2a0508", "strokeWidth": 1},
    "encoding": {"x": {"field": "d", "type": "temporal", "title": null, "scale": {"type": "utc", "domain": [{"year": 2001, "month": 12, "date": 31, "utc": true}, {"year": 2004, "month": 4, "date": 27, "utc": true}]}},
     "y": {"field": "v", "type": "quantitative", "title": null, "scale": {"type": "log", "domain": [4.19, 8.5], "nice": false}}}},
   {"data": {"values": [{"d1": "2002-06-04", "v1": 5.09, "d2": "2003-11-27", "v2": 4.75}, {"d1": "2002-01-22", "v1": 4.25, "d2": "2003-11-30", "v2": 4.75}, {"d1": "2004-01-01", "v1": 5.87, "d2": "2004-04-11", "v2": 7.21}, {"d1": "2004-01-10", "v1": 6.62, "d2": "2004-04-11", "v2": 7.21}], "format": {"parse": {"d1": "date", "d2": "date"}}},
    "mark": {"type": "rule", "color": "#3a3a9c", "strokeWidth": 2.5},
    "encoding": {"x": {"field": "d1", "type": "temporal", "title": null, "scale": {"type": "utc", "domain": [{"year": 2001, "month": 12, "date": 31, "utc": true}, {"year": 2004, "month": 4, "date": 27, "utc": true}]}}, "x2": {"field": "d2"},
     "y": {"field": "v1", "type": "quantitative", "title": null, "scale": {"type": "log", "domain": [4.19, 8.5], "nice": false}}, "y2": {"field": "v2"}}},
   {"data": {"values": [{"d1": "2003-09-15", "v1": 4.80, "d2": "2004-01-01", "v2": 5.89}, {"d1": "2003-07-16", "v1": 4.92, "d2": "2003-08-31", "v2": 4.92}, {"d1": "2003-07-25", "v1": 5.19, "d2": "2003-08-31", "v2": 4.92}, {"d1": "2003-10-08", "v1": 4.95, "d2": "2003-11-27", "v2": 4.92}, {"d1": "2003-10-26", "v1": 5.19, "d2": "2003-11-27", "v2": 4.92}, {"d1": "2003-11-12", "v1": 5.20, "d2": "2003-12-06", "v2": 5.22}, {"d1": "2003-11-18", "v1": 5.39, "d2": "2003-12-06", "v2": 5.22}], "format": {"parse": {"d1": "date", "d2": "date"}}},
    "mark": {"type": "rule", "color": "#3a3a9c", "strokeWidth": 1},
    "encoding": {"x": {"field": "d1", "type": "temporal", "title": null, "scale": {"type": "utc", "domain": [{"year": 2001, "month": 12, "date": 31, "utc": true}, {"year": 2004, "month": 4, "date": 27, "utc": true}]}}, "x2": {"field": "d2"},
     "y": {"field": "v1", "type": "quantitative", "title": null, "scale": {"type": "log", "domain": [4.19, 8.5], "nice": false}}, "y2": {"field": "v2"}}},
   {"data": {"values": [{"d1": "2003-09-03", "v1": 5.39, "d2": "2003-10-05", "v2": 5.28}, {"d1": "2003-08-26", "v1": 5.16, "d2": "2003-10-17", "v2": 5.26}], "format": {"parse": {"d1": "date", "d2": "date"}}},
    "mark": {"type": "rule", "color": "#ff0000", "strokeWidth": 1.2},
    "encoding": {"x": {"field": "d1", "type": "temporal", "title": null, "scale": {"type": "utc", "domain": [{"year": 2001, "month": 12, "date": 31, "utc": true}, {"year": 2004, "month": 4, "date": 27, "utc": true}]}}, "x2": {"field": "d2"},
     "y": {"field": "v1", "type": "quantitative", "title": null, "scale": {"type": "log", "domain": [4.19, 8.5], "nice": false}}, "y2": {"field": "v2"}}},
   {"data": {"name": "one"}, "mark": {"type": "text"},
    "encoding": {"text": {"value": "$SILVER Daily"}, "x": {"datum": {"year": 2002, "month": 1, "date": 3, "utc": true}, "type": "temporal", "scale": {"type": "utc", "domain": [{"year": 2001, "month": 12, "date": 31, "utc": true}, {"year": 2004, "month": 4, "date": 27, "utc": true}]}},
     "y": {"datum": 8.356, "type": "quantitative", "scale": {"type": "log", "domain": [4.19, 8.5], "nice": false}}}},
   {"data": {"name": "one"}, "mark": {"type": "text"},
    "encoding": {"text": {"value": "www.ebainvest.com"}, "x": {"datum": {"year": 2002, "month": 1, "date": 3, "utc": true}, "type": "temporal", "scale": {"type": "utc", "domain": [{"year": 2001, "month": 12, "date": 31, "utc": true}, {"year": 2004, "month": 4, "date": 27, "utc": true}]}},
     "y": {"datum": 6.56, "type": "quantitative", "scale": {"type": "log", "domain": [4.19, 8.5], "nice": false}}}},
   {"data": {"values": [{"d": "2003-03-29", "t": "19-Apr-2004"}, {"d": "2003-07-20", "t": "7.25"}, {"d": "2003-09-11", "t": "7.30"}, {"d": "2003-10-28", "t": "7.16"}, {"d": "2003-12-13", "t": "7.21"}, {"d": "2004-03-18", "t": "+0.07"}]},
    "mark": {"type": "text", "fontSize": 10},
    "encoding": {"x": {"field": "d", "type": "temporal", "title": null, "scale": {"type": "utc", "domain": [{"year": 2001, "month": 12, "date": 31, "utc": true}, {"year": 2004, "month": 4, "date": 27, "utc": true}]}},
     "y": {"datum": 8.356, "type": "quantitative", "scale": {"type": "log", "domain": [4.19, 8.5], "nice": false}}, "text": {"field": "t"}}},
   {"data": {"values": [{"d": "2003-07-01", "t": "O:"}, {"d": "2003-08-20", "t": "H:"}, {"d": "2003-10-13", "t": "L:"}, {"d": "2003-11-28", "t": "C:"}, {"d": "2004-02-06", "t": "Chg:"}]},
    "mark": {"type": "text", "fontWeight": "bold", "fontSize": 10},
    "encoding": {"x": {"field": "d", "type": "temporal", "title": null, "scale": {"type": "utc", "domain": [{"year": 2001, "month": 12, "date": 31, "utc": true}, {"year": 2004, "month": 4, "date": 27, "utc": true}]}},
     "y": {"datum": 8.356, "type": "quantitative", "scale": {"type": "log", "domain": [4.19, 8.5], "nice": false}}, "text": {"field": "t"}}}
  ]
 },
 {
  "width": 572, "height": 113,
  "view": {"fill": {"gradient": "linear", "x1": 0, "y1": 0, "x2": 0, "y2": 1, "stops": [{"offset": 0, "color": "#f3e8c2"}, {"offset": 1, "color": "#d9ba8b"}]}},
  "layer": [
   {"data": {"name": "pdi"}, "mark": {"type": "line", "color": "#12996a", "strokeWidth": 1},
    "encoding": {"x": {"field": "d", "type": "temporal", "title": null, "scale": {"type": "utc", "domain": [{"year": 2001, "month": 12, "date": 31, "utc": true}, {"year": 2004, "month": 4, "date": 27, "utc": true}]}, "axis": {"tickCount": {"interval": "month", "step": 1}, "labels": false, "grid": true}},
     "y": {"field": "v", "type": "quantitative", "title": null, "scale": {"domain": [3.15, 59.65], "zero": false, "nice": false}, "axis": {"orient": "right", "values": [10, 20, 30, 40, 50], "tickCount": 20, "grid": true, "labelOverlap": false}}}},
   {"data": {"name": "mdi"}, "mark": {"type": "line", "color": "#ff0000", "strokeWidth": 1},
    "encoding": {"x": {"field": "d", "type": "temporal", "title": null, "scale": {"type": "utc", "domain": [{"year": 2001, "month": 12, "date": 31, "utc": true}, {"year": 2004, "month": 4, "date": 27, "utc": true}]}},
     "y": {"field": "v", "type": "quantitative", "title": null, "scale": {"domain": [3.15, 59.65], "zero": false, "nice": false}}}},
   {"data": {"name": "adx"}, "mark": {"type": "line", "color": "#5c2210", "strokeWidth": 2.5},
    "encoding": {"x": {"field": "d", "type": "temporal", "title": null, "scale": {"type": "utc", "domain": [{"year": 2001, "month": 12, "date": 31, "utc": true}, {"year": 2004, "month": 4, "date": 27, "utc": true}]}},
     "y": {"field": "v", "type": "quantitative", "title": null, "scale": {"domain": [3.15, 59.65], "zero": false, "nice": false}}}},
   {"data": {"name": "one"}, "mark": {"type": "text", "fontSize": 10},
    "encoding": {"text": {"value": "ADX(14)  35.4"}, "x": {"datum": {"year": 2002, "month": 1, "date": 3, "utc": true}, "type": "temporal", "scale": {"type": "utc", "domain": [{"year": 2001, "month": 12, "date": 31, "utc": true}, {"year": 2004, "month": 4, "date": 27, "utc": true}]}},
     "y": {"datum": 55.8, "type": "quantitative", "scale": {"domain": [3.15, 59.65], "zero": false, "nice": false}}}},
   {"data": {"name": "one"}, "mark": {"type": "text", "fontSize": 10, "color": "#12996a"},
    "encoding": {"text": {"value": "+DI"}, "x": {"datum": {"year": 2002, "month": 1, "date": 3, "utc": true}, "type": "temporal", "scale": {"type": "utc", "domain": [{"year": 2001, "month": 12, "date": 31, "utc": true}, {"year": 2004, "month": 4, "date": 27, "utc": true}]}},
     "y": {"datum": 50.1, "type": "quantitative", "scale": {"domain": [3.15, 59.65], "zero": false, "nice": false}}}},
   {"data": {"name": "one"}, "mark": {"type": "text", "fontSize": 10, "color": "#ff0000"},
    "encoding": {"text": {"value": "-DI"}, "x": {"datum": {"year": 2002, "month": 2, "date": 6, "utc": true}, "type": "temporal", "scale": {"type": "utc", "domain": [{"year": 2001, "month": 12, "date": 31, "utc": true}, {"year": 2004, "month": 4, "date": 27, "utc": true}]}},
     "y": {"datum": 50.1, "type": "quantitative", "scale": {"domain": [3.15, 59.65], "zero": false, "nice": false}}}}
  ]
 },
 {
  "width": 572, "height": 112,
  "view": {"fill": {"gradient": "linear", "x1": 0, "y1": 0, "x2": 0, "y2": 1, "stops": [{"offset": 0, "color": "#e2c898"}, {"offset": 1, "color": "#c9a16e"}]}},
  "layer": [
   {"data": {"name": "rel"}, "mark": {"type": "line", "color": "#5c2210", "strokeWidth": 2.5, "opacity": 0},
    "encoding": {"x": {"field": "d", "type": "temporal", "title": null, "scale": {"type": "utc", "domain": [{"year": 2001, "month": 12, "date": 31, "utc": true}, {"year": 2004, "month": 4, "date": 27, "utc": true}]},
       "axis": {"tickCount": {"interval": "month", "step": 1}, "labels": true, "grid": true, "labelExpr": "utcmonth(datum.value) == 0 ? utcFormat(datum.value, '%y') : slice(utcFormat(datum.value, '%b'), 0, 1)", "labelFlush": 3, "labelFontSize": 10.5, "labelPadding": 3, "title": null}},
     "y": {"field": "v", "type": "quantitative", "title": null, "scale": {"domain": [0.0315, 0.0995], "zero": false, "nice": false}, "axis": {"orient": "right", "values": [0.04, 0.05, 0.06, 0.07, 0.08, 0.09], "tickCount": 20, "format": ".2f", "grid": false, "labelOverlap": false}}}},
   {"data": {"values": [{"v": 0.0795}, {"v": 0.0684}, {"v": 0.0560}, {"v": 0.0489}, {"v": 0.0394}]},
    "mark": {"type": "rule", "color": "#ff0000", "strokeWidth": 2},
    "encoding": {"y": {"field": "v", "type": "quantitative", "title": null, "scale": {"domain": [0.0315, 0.0995], "zero": false, "nice": false}}}},
   {"data": {"name": "rel"}, "mark": {"type": "line", "color": "#5c2210", "strokeWidth": 2.5},
    "encoding": {"x": {"field": "d", "type": "temporal", "title": null, "scale": {"type": "utc", "domain": [{"year": 2001, "month": 12, "date": 31, "utc": true}, {"year": 2004, "month": 4, "date": 27, "utc": true}]}},
     "y": {"field": "v", "type": "quantitative", "title": null, "scale": {"domain": [0.0315, 0.0995], "zero": false, "nice": false}}}},
   {"data": {"name": "ema"}, "mark": {"type": "line", "color": "#1aa87a", "strokeWidth": 1},
    "encoding": {"x": {"field": "d", "type": "temporal", "title": null, "scale": {"type": "utc", "domain": [{"year": 2001, "month": 12, "date": 31, "utc": true}, {"year": 2004, "month": 4, "date": 27, "utc": true}]}},
     "y": {"field": "v", "type": "quantitative", "title": null, "scale": {"domain": [0.0315, 0.0995], "zero": false, "nice": false}}}},
   {"data": {"name": "one"}, "mark": {"type": "text", "fontSize": 10},
    "encoding": {"text": {"value": "Price Relative to $USD  0.0803"}, "x": {"datum": {"year": 2002, "month": 1, "date": 3, "utc": true}, "type": "temporal", "scale": {"type": "utc", "domain": [{"year": 2001, "month": 12, "date": 31, "utc": true}, {"year": 2004, "month": 4, "date": 27, "utc": true}]}},
     "y": {"datum": 0.0966, "type": "quantitative", "scale": {"domain": [0.0315, 0.0995], "zero": false, "nice": false}}}},
   {"data": {"name": "one"}, "mark": {"type": "text", "fontSize": 10, "color": "#1aa87a"},
    "encoding": {"text": {"value": "EMA(20) 0.0847"}, "x": {"datum": {"year": 2002, "month": 1, "date": 3, "utc": true}, "type": "temporal", "scale": {"type": "utc", "domain": [{"year": 2001, "month": 12, "date": 31, "utc": true}, {"year": 2004, "month": 4, "date": 27, "utc": true}]}},
     "y": {"datum": 0.0897, "type": "quantitative", "scale": {"domain": [0.0315, 0.0995], "zero": false, "nice": false}}}}
  ]
 }
]
}
